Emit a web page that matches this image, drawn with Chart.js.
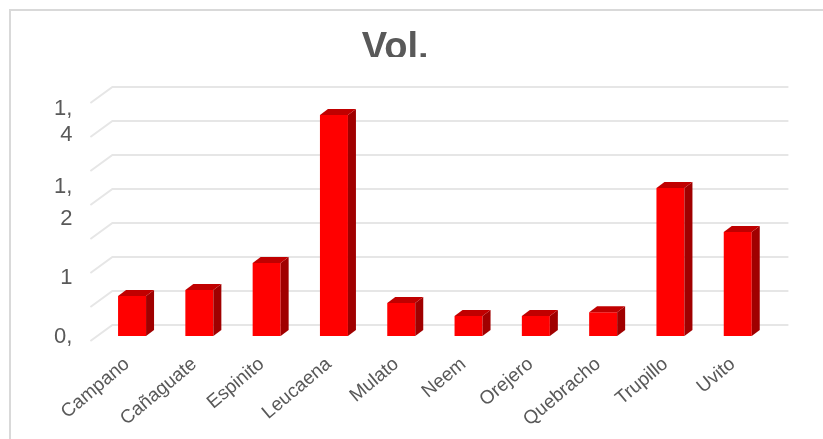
<!DOCTYPE html>
<html>
<head>
<meta charset="utf-8">
<style>
  html, body { margin: 0; padding: 0; background: #fff; overflow: hidden; }
  #frame { position: absolute; left: 9px; top: 9px; width: 814px; height: 430px; box-sizing: border-box; border-left: 2px solid #d9d9d9; border-top: 2px solid #d9d9d9; }
  #chart { position: absolute; left: 19px; top: 0; filter: blur(0.5px); }
</style>
</head>
<body>
<div id="frame"></div>
<canvas id="chart" width="771" height="439" style="width:771px;height:439px"></canvas>
<script src="https://cdn.jsdelivr.net/npm/chart.js@4/dist/chart.umd.js"></script>
<script>
const species = ["Campano", "Cañaguate", "Espinito", "Leucaena", "Mulato", "Neem", "Orejero", "Quebracho", "Trupillo", "Uvito"];
const volumes = [0.918, 0.935, 1.015, 1.45, 0.897, 0.859, 0.859, 0.87, 1.235, 1.106];
// Labels are cut off in the original, the blank lines just nudge them up or down
const yLabels = [["0,", ""], "", ["", "1"], "", ["1,", "2"], "", ["1,", "4", ""], ""];
const yLineHeights = [0.18, 1.3, 0.64, 1.3, 1.45, 1.3, 1.2, 1.3];

const depthX = 8, depthY = 6;

const fake3d = {
    id: "fake3d",
    beforeDatasetsDraw(chart) {
        const { ctx, chartArea, scales } = chart;
        ctx.save();
        ctx.strokeStyle = "#e6e6e6";
        ctx.lineWidth = 2;
        scales.y.ticks.forEach((t, i) => {
            const y = scales.y.getPixelForTick(i);
            ctx.beginPath();
            ctx.moveTo(chartArea.left - 8, y + 5);
            ctx.lineTo(chartArea.left + 14, y - 11);
            ctx.lineTo(chartArea.right + 17, y - 11);
            ctx.stroke();
        });
        ctx.restore();
    },
    afterDatasetsDraw(chart) {
        const { ctx, chartArea } = chart;
        ctx.save();
        chart.getDatasetMeta(0).data.forEach(bar => {
            const l = bar.x - bar.width / 2, r = bar.x + bar.width / 2;
            // side
            ctx.fillStyle = "#a00000";
            ctx.beginPath();
            ctx.moveTo(r, bar.y);
            ctx.lineTo(r + depthX, bar.y - depthY);
            ctx.lineTo(r + depthX, bar.base - depthY);
            ctx.lineTo(r, bar.base);
            ctx.closePath();
            ctx.fill();
            // top
            ctx.fillStyle = "#c00000";
            ctx.beginPath();
            ctx.moveTo(l, bar.y);
            ctx.lineTo(l + depthX, bar.y - depthY);
            ctx.lineTo(r + depthX, bar.y - depthY);
            ctx.lineTo(r, bar.y);
            ctx.closePath();
            ctx.fill();
        });
        // title is cut at the bottom in the original
        ctx.fillStyle = "#fff";
        ctx.fillRect(chartArea.left + 200, 57, 200, 10);
        ctx.restore();
    }
};

new Chart(document.getElementById("chart"), {
    type: "bar",
    data: {
        labels: species,
        datasets: [{ data: volumes, base: 0.8, backgroundColor: "#ff0000", barPercentage: 0.416, categoryPercentage: 1 }]
    },
    plugins: [fake3d],
    options: {
        responsive: false,
        animation: false,
        layout: { padding: { right: 18.6 } },
        plugins: {
            legend: { display: false },
            tooltip: { enabled: false },
            title: {
                display: true,
                text: "Vol.",
                color: "#595959",
                font: { family: "Liberation Sans", size: 38, weight: "bold" },
                padding: { top: 26, bottom: 26.4 }
            }
        },
        scales: {
            x: {
                grid: { display: false },
                border: { display: false },
                afterFit(scale) { scale.height = 103; },
                ticks: {
                    autoSkip: false,
                    maxRotation: 40,
                    minRotation: 40,
                    padding: 9,
                    labelOffset: -5,
                    color: "#595959",
                    font: { family: "Liberation Sans", size: 19 }
                }
            },
            y: {
                min: 0.8,
                max: 1.5,
                grid: { display: false, drawTicks: false },
                border: { display: false },
                afterFit(scale) { scale.width = 79.4; },
                ticks: {
                    stepSize: 0.1,
                    autoSkip: false,
                    padding: 26,
                    labelOffset: 3,
                    color: "#595959",
                    font: ctx => ({ family: "Liberation Sans", size: 22, lineHeight: yLineHeights[ctx.index] }),
                    callback: (value, i) => yLabels[i]
                }
            }
        }
    }
});
</script>
</body>
</html>
